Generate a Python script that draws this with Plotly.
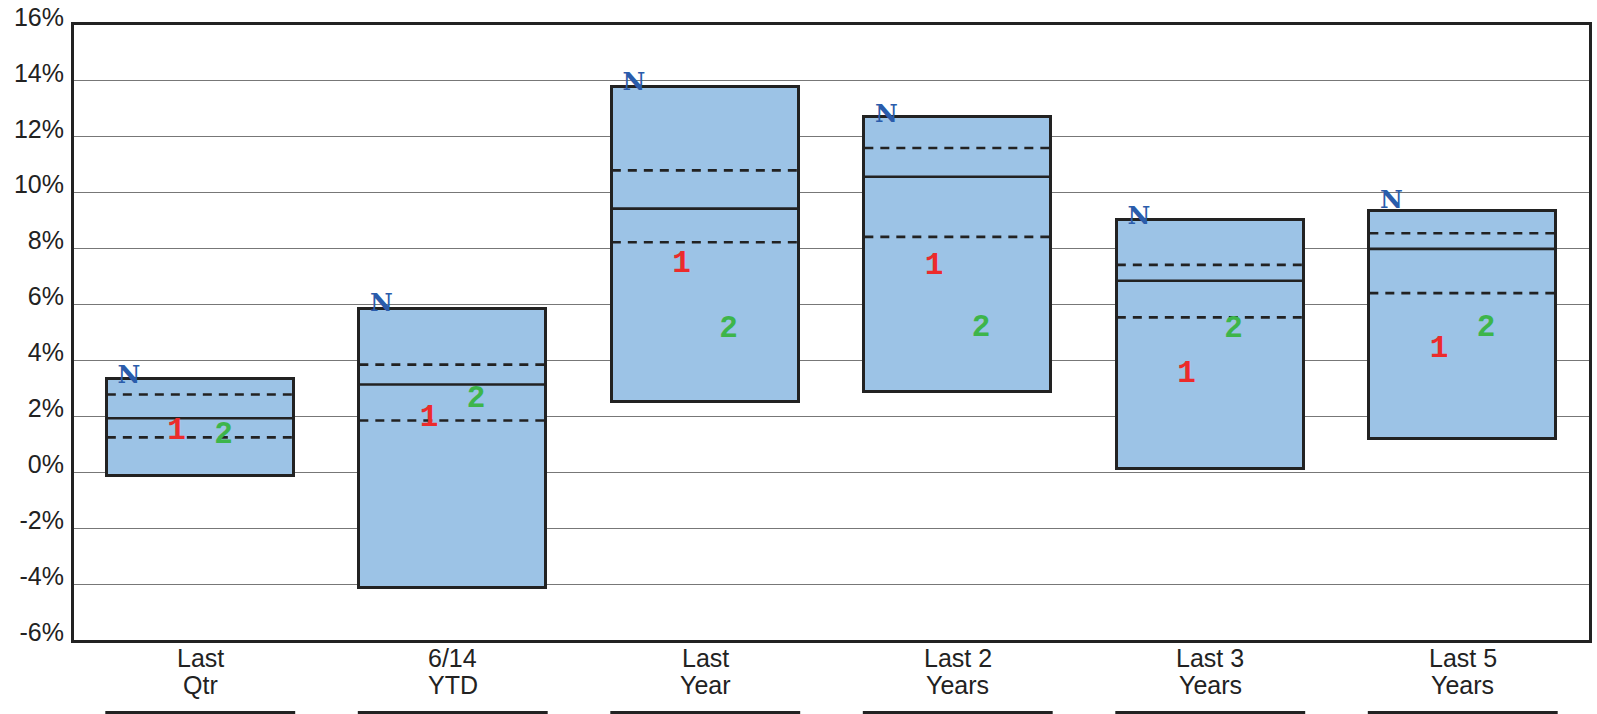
import plotly.graph_objects as go

# Period labels (two lines each)
period_line1 = ["Last", "6/14", "Last", "Last 2", "Last 3", "Last 5"]
period_line2 = ["Qtr", "YTD", "Year", "Years", "Years", "Years"]

# Peer-universe range statistics (%)
range_high = [3.32, 5.85, 13.78, 12.70, 9.03, 9.35]
range_low = [-0.12, -4.13, 2.52, 2.87, 0.13, 1.18]
upper_quartile = [2.78, 3.85, 10.80, 11.60, 7.42, 8.55]
median = [1.93, 3.14, 9.43, 10.57, 6.85, 7.99]
lower_quartile = [1.25, 1.85, 8.23, 8.42, 5.54, 6.41]

# Returns of the plotted portfolios (%)
index_n = [3.43, 5.99, 13.90, 12.75, 9.12, 9.68]
fund_1 = [1.46, 1.94, 7.44, 7.36, 3.51, 4.41]
fund_2 = [1.31, 2.60, 5.12, 5.16, 5.12, 5.16]

y_ticks = [-6, -4, -2, 0, 2, 4, 6, 8, 10, 12, 14, 16]

BOX_W = 0.74
HALF = BOX_W / 2
FILL = "#9cc3e6"
EDGE = "#222222"

W, H = 1597, 714
M_L, M_R, M_T, M_B = 74, 8, 25, 74
plot_h = H - M_T - M_B

xs = list(range(len(median)))

fig = go.Figure()

# Floating range boxes
fig.add_trace(go.Bar(
    x=xs,
    y=[h - l for h, l in zip(range_high, range_low)],
    base=range_low,
    width=BOX_W,
    marker=dict(color=FILL, line=dict(color=EDGE, width=3)),
    hoverinfo="skip",
    showlegend=False,
))


def hlines(values):
    lx, ly = [], []
    for i, v in zip(xs, values):
        lx += [i - HALF, i + HALF, None]
        ly += [v, v, None]
    return lx, ly


for vals, dash, w in [
    (upper_quartile, "9px,7px", 2.6),
    (lower_quartile, "9px,7px", 2.6),
    (median, "solid", 2.6),
]:
    lx, ly = hlines(vals)
    fig.add_trace(go.Scatter(
        x=lx, y=ly, mode="lines",
        line=dict(color=EDGE, width=w, dash=dash),
        hoverinfo="skip", showlegend=False,
    ))

# Portfolio markers drawn as letters / digits
for vals, label, dx, family, size, color in [
    (index_n, "N", -0.282, "DejaVu Serif", 25, "#2a5cab"),
    (fund_1, "1", -0.094, "Liberation Mono", 31, "#ec2b2b"),
    (fund_2, "2", 0.092, "Liberation Mono", 31, "#3db54a"),
]:
    fig.add_trace(go.Scatter(
        x=[i + dx for i in xs], y=vals, mode="text",
        text=[label] * len(xs), textposition="middle center",
        textfont=dict(family=family, size=size, color=color, weight="bold"),
        hoverinfo="skip", showlegend=False, cliponaxis=False,
    ))

# Category labels and underline rules below the plot
annotations = []
shapes = []
rule_y = -(714 - (H - M_B)) / plot_h
for i, (a, b) in enumerate(zip(period_line1, period_line2)):
    for txt, shift in [(a, -17.5), (b, -44.5)]:
        annotations.append(dict(
            x=i, y=0, xref="x", yref="paper", text=txt, showarrow=False,
            xanchor="center", yanchor="middle", yshift=shift,
            font=dict(family="Liberation Sans, Arial", size=25, color="#222222"),
        ))
    shapes.append(dict(
        type="line", xref="x", yref="paper",
        x0=i - HALF - 0.006, x1=i + HALF + 0.006,
        y0=rule_y, y1=rule_y,
        line=dict(color=EDGE, width=6),
    ))

fig.update_layout(
    width=W, height=H,
    margin=dict(l=M_L, r=M_R, t=M_T, b=M_B, pad=0, autoexpand=False),
    plot_bgcolor="white", paper_bgcolor="white",
    annotations=annotations, shapes=shapes,
    bargap=0,
)
fig.update_xaxes(
    range=[-0.5, 5.5], showgrid=False, zeroline=False, showticklabels=False,
    showline=True, mirror=True, linecolor=EDGE, linewidth=3, ticks="",
    automargin=False,
)
fig.update_yaxes(
    range=[-6, 16], tickvals=y_ticks, ticktext=[f"{v}%" for v in y_ticks],
    showgrid=True, gridcolor="#777777", gridwidth=1.2, zeroline=False,
    showline=True, mirror=True, linecolor=EDGE, linewidth=3, ticks="",
    tickfont=dict(family="Liberation Sans, Arial", size=25, color="#222222"),
    ticklabelshift=-8, ticklabelstandoff=2, automargin=False,
)

fig.write_html("out.html")
